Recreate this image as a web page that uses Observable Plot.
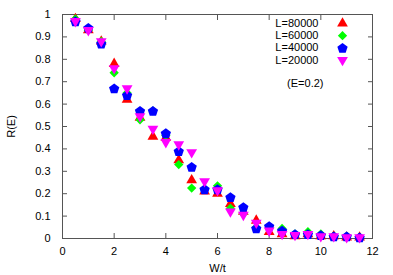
<!DOCTYPE html>
<html><head><meta charset="utf-8">
<script src="https://cdn.jsdelivr.net/npm/d3@7"></script>
<script src="https://cdn.jsdelivr.net/npm/@observablehq/plot@0.6"></script>
<style>body{margin:0;background:#fff}</style>
</head><body><div id="chart"></div>
<script>
const W = [0.5,1,1.5,2,2.5,3,3.5,4,4.5,5,5.5,6,6.5,7,7.5,8,8.5,9,9.5,10,10.5,11,11.5];
const L80000 = [0.98,0.93,0.88,0.78,0.62,0.54,0.455,0.45,0.35,0.26,0.21,0.20,0.155,0.12,0.08,0.03,0.02,0.01,0.02,0.01,0.01,0.005,0.005];
const L60000 = [0.98,0.93,0.88,0.74,0.65,0.53,0.57,0.46,0.33,0.225,0.22,0.235,0.135,0.11,0.05,0.05,0.045,0.02,0.03,0.02,0.01,0.01,0.005];
const L40000 = [0.97,0.94,0.87,0.67,0.64,0.57,0.57,0.47,0.39,0.32,0.22,0.22,0.185,0.14,0.045,0.055,0.035,0.02,0.02,0.015,0.01,0.01,0.005];
const L20000 = [0.97,0.93,0.88,0.76,0.67,0.545,0.49,0.43,0.42,0.385,0.255,0.215,0.12,0.105,0.07,0.035,0.02,0.015,0.02,0.01,0.01,0.005,0.005];
const seriesNames = ["L=80000","L=60000","L=40000","L=20000"];
const seriesValues = [L80000, L60000, L40000, L20000];
const seriesColors = ["#ff0000","#00ff00","#0000ff","#ff00ff"];
const xTicks = [0,2,4,6,8,10,12];
const xTickLabels = ["0","2","4","6","8","10","12"];
const yTicks = [0,0.1,0.2,0.3,0.4,0.5,0.6,0.7,0.8,0.9,1];
const yTickLabels = ["0","0.1","0.2","0.3","0.4","0.5","0.6","0.7","0.8","0.9","1"];
const xLabel = "W/t";
const yLabel = "R(E)";
const note = "(E=0.2)";

const pentagon = {
  draw(context, size) {
    const R = Math.sqrt(size / (2.5 * Math.sin(2 * Math.PI / 5)));
    for (let i = 0; i < 5; i++) {
      const a = -Math.PI / 2 + i * 2 * Math.PI / 5;
      const px = R * Math.cos(a), py = R * Math.sin(a) + R * 0.1;
      if (i === 0) context.moveTo(px, py); else context.lineTo(px, py);
    }
    context.closePath();
  }
};
const symbols = ["triangle", "diamond2", pentagon, "triangle"];
const rotations = [0, 0, 0, 180];
const radii = [4, 4.2, 4.7, 4];

const rows = [];
seriesNames.forEach((name, s) => W.forEach((w, i) => rows.push({w, r: seriesValues[s][i], s})));

const marks = [];
seriesNames.forEach((name, s) => {
  marks.push(Plot.dot(rows.filter(d => d.s === s), {
    x: "w", y: "r", symbol: symbols[s], r: radii[s], rotate: rotations[s],
    fill: seriesColors[s], stroke: "none"
  }));
  marks.push(Plot.text([name], {
    frameAnchor: "top-right", text: d => d, dx: -54, dy: 9 + s * 12.2,
    textAnchor: "end", lineAnchor: "middle", fill: "#000"
  }));
  marks.push(Plot.dot([name], {
    frameAnchor: "top-right", dx: -30, dy: 9 + s * 12.2, symbol: symbols[s], r: radii[s],
    rotate: rotations[s], fill: seriesColors[s], stroke: "none"
  }));
});
marks.push(Plot.text([note], {
  frameAnchor: "top-right", text: d => d, dx: -49, dy: 69, textAnchor: "end", lineAnchor: "middle", fill: "#000"
}));

const fmtX = d => xTickLabels[xTicks.indexOf(d)];
const fmtY = d => yTickLabels[yTicks.indexOf(d)];

const chart = Plot.plot({
  width: 393, height: 275,
  marginLeft: 62, marginRight: 21, marginTop: 14, marginBottom: 37,
  style: {fontFamily: "'Liberation Sans', Arial, sans-serif", fontSize: "11px", background: "#fff", color: "#000"},
  x: {domain: [0, 12]},
  y: {domain: [0, 1]},
  marks: [
    Plot.frame({stroke: "#555"}),
    Plot.axisX(xTicks, {anchor: "bottom", tickSize: -5, tickPadding: 14, tickFormat: fmtX, stroke: "#555",
      label: xLabel, labelAnchor: "center", labelArrow: "none", labelOffset: 33}),
    Plot.axisX(xTicks, {anchor: "top", tickSize: -5, tickFormat: () => "", stroke: "#555", label: null}),
    Plot.axisY(yTicks, {anchor: "left", tickSize: -5, tickPadding: 17, tickFormat: fmtY, stroke: "#555",
      label: yLabel, labelAnchor: "center", labelArrow: "none", labelOffset: 55}),
    Plot.axisY(yTicks, {anchor: "right", tickSize: -5, tickFormat: () => "", stroke: "#555", label: null}),
    ...marks
  ]
});
document.getElementById("chart").appendChild(chart);
</script>
</body></html>
